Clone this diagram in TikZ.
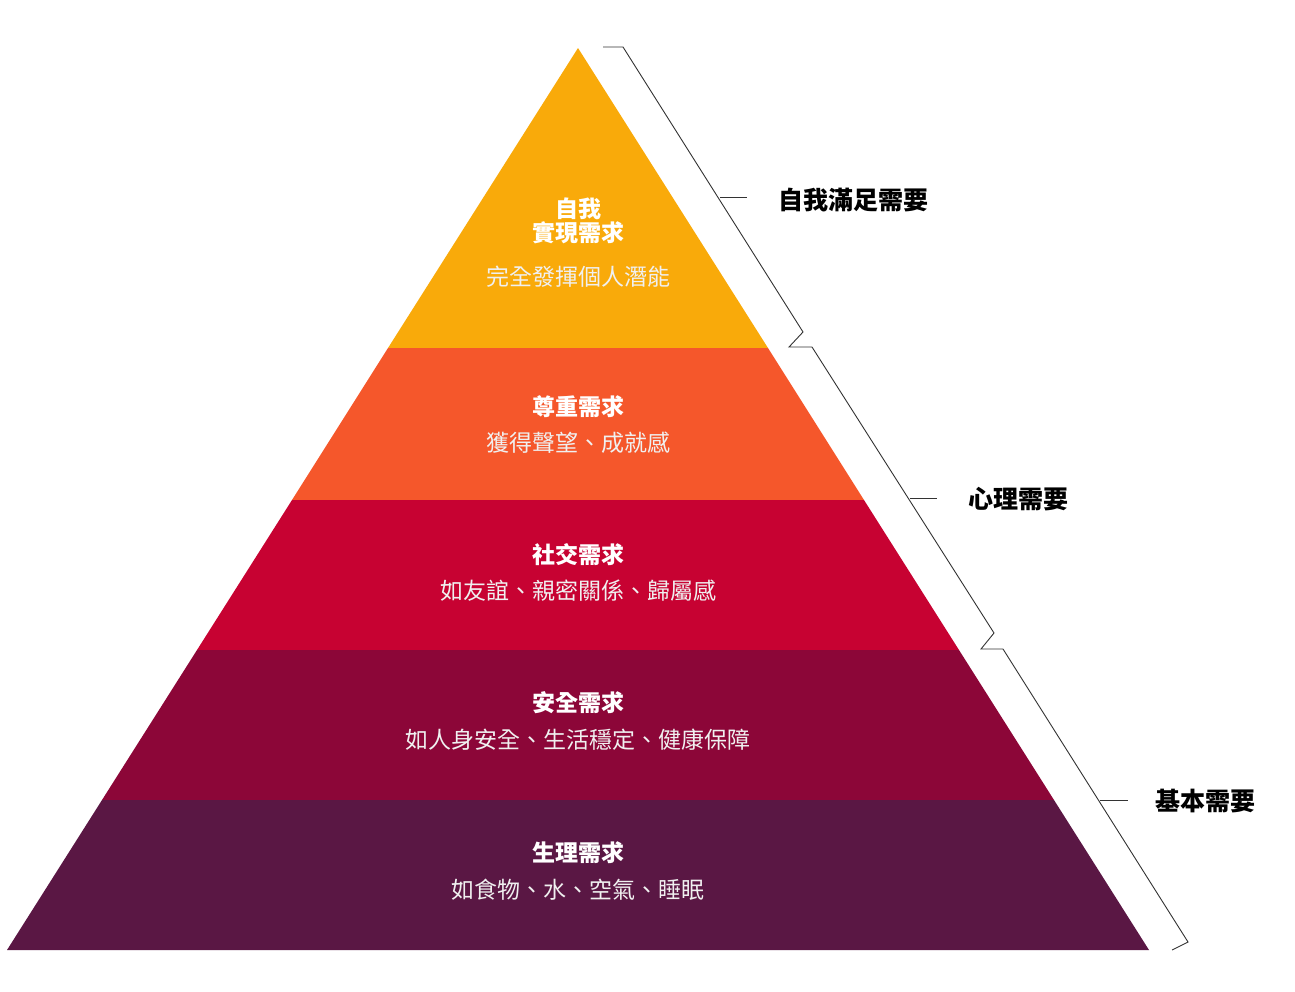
\documentclass[tikz,border=0pt]{standalone}
\usepackage{fontspec}
\setmainfont{Noto Sans CJK TC}
\usetikzlibrary{positioning}
\definecolor{lvA}{HTML}{F9AA0A}
\definecolor{lvB}{HTML}{F5572B}
\definecolor{lvC}{HTML}{C70232}
\definecolor{lvD}{HTML}{8C0638}
\definecolor{lvE}{HTML}{5A1744}

\begin{document}
\begin{tikzpicture}[x=1pt,y=-1pt]
\tikzstyle{every path}=[line width=0.9pt]
\tikzstyle{ttl}=[text=white,font=\fontsize{23}{26}\selectfont\bfseries,align=center,inner sep=0]
\tikzstyle{sub}=[text=white!88!gray,font=\fontsize{23}{26}\selectfont,inner sep=0]
\tikzstyle{grp}=[anchor=west,font=\fontsize{25}{28}\selectfont\bfseries,inner sep=0]
\tikzstyle{brace}=[draw=black!80,line width=0.9pt]

\useasboundingbox (0,0) rectangle (1295,991);

% layers
\fill[lvA] (578,48) -- (768,348) -- (388,348) -- cycle;
\fill[lvB] (388,348) -- (768,348) -- (864,500) -- (292,500) -- cycle;
\fill[lvC] (292,500) -- (864,500) -- (959,650) -- (197,650) -- cycle;
\fill[lvD] (197,650) -- (959,650) -- (1054,800) -- (102,800) -- cycle;
\fill[lvE] (102,800) -- (1054,800) -- (1149,950) -- (7,950) -- cycle;

% texts
\node[ttl] (t1) at (578,221) {自我\\[-2pt]實現需求};
\node[sub] (s1) at (578,277) {完全發揮個人潛能};
\node[ttl] (t2) at (578,407) {尊重需求};
\node[sub] (s2) at (578,443) {獲得聲望、成就感};
\node[ttl] (t3) at (578,555) {社交需求};
\node[sub] (s3) at (578,591) {如友誼、親密關係、歸屬感};
\node[ttl] (t4) at (578,703) {安全需求};
\node[sub] (s4) at (578,740) {如人身安全、生活穩定、健康保障};
\node[ttl] (t5) at (578,853) {生理需求};
\node[sub] (s5) at (578,890) {如食物、水、空氣、睡眠};

% braces
\coordinate (b0) at (603,47);
\coordinate (b1) at (812,347);
\coordinate (b2) at (1003,649);
\draw[brace] (b0) -- (623,47) -- (803,332) -- (789,347) -- (b1);
\draw[brace] (b1) -- (994,633) -- (981,649) -- (b2);
\draw[brace] (b2) -- (1188,942) -- (1172,950);

\node[grp] (g1) at (778,200) {自我滿足需要};
\node[grp] (g2) at (968,499) {心理需要};
\node[grp] (g3) at (1155,801) {基本需要};

\coordinate (k1) at (720,197);
\coordinate (k2) at (910,498);
\coordinate (k3) at (1100,800);
\draw[brace] (k1) -- ([xshift=-31pt]g1.west |- k1);
\draw[brace] (k2) -- ([xshift=-31pt]g2.west |- k2);
\draw[brace] (k3) -- ([xshift=-27pt]g3.west |- k3);
\end{tikzpicture}
\end{document}
